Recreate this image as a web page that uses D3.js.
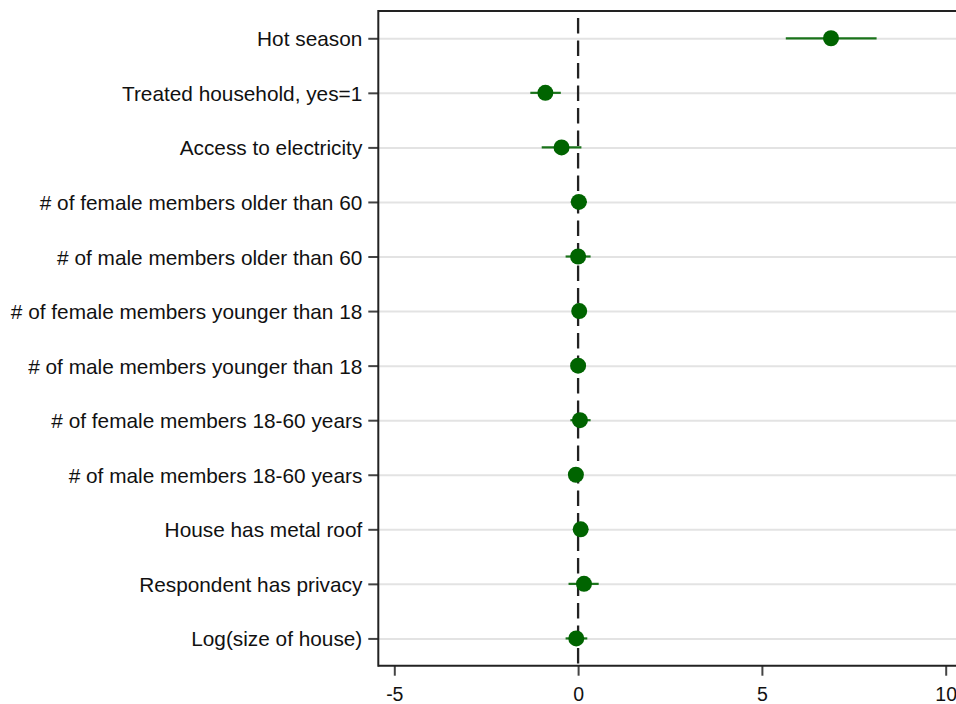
<!DOCTYPE html>
<html>
<head>
<meta charset="utf-8">
<script src="https://cdn.jsdelivr.net/npm/d3@7"></script>
<style>
    body { margin: 0; background: #fff; }
    #chart text { font-family: 'Liberation Sans', Arial, sans-serif; fill: #111; }
</style>
</head>
<body>
<div id="chart"></div>
<script>
// Coefficient names, top to bottom
var labels = [
    'Hot season',
    'Treated household, yes=1',
    'Access to electricity',
    '# of female members older than 60',
    '# of male members older than 60',
    '# of female members younger than 18',
    '# of male members younger than 18',
    '# of female members 18-60 years',
    '# of male members 18-60 years',
    'House has metal roof',
    'Respondent has privacy',
    'Log(size of house)'
];

// Point estimates and confidence bounds
var estimates = [6.88, -0.89, -0.45, 0.02, 0.0, 0.03, 0.0, 0.05, -0.06, 0.07, 0.16, -0.05];
var ciLow = [5.65, -1.3, -0.99, -0.2, -0.34, -0.12, -0.1, -0.21, -0.16, -0.03, -0.26, -0.34];
var ciHigh = [8.12, -0.47, 0.09, 0.24, 0.34, 0.16, 0.1, 0.34, 0.06, 0.16, 0.56, 0.25];

// X axis ticks
var xTicks = [-5, 0, 5, 10];

var rows = labels.map(function (d, i) {
    return { label: d, est: estimates[i], lo: ciLow[i], hi: ciHigh[i] };
});

// Layout
var svgWidth = 956,
    svgHeight = 704;
var plot = { left: 378.3, top: 11, right: 975, bottom: 665.7 };

var x = d3.scaleLinear().domain([-5, 10]).range([394.3, 945.7]);
var y = d3.scalePoint().domain(labels).range([plot.top, plot.bottom]).padding(0.5);

var svg = d3
    .select('#chart')
    .append('svg')
    .attr('width', svgWidth)
    .attr('height', svgHeight);

// Horizontal grid lines
svg.append('g')
    .attr('class', 'grid')
    .attr('transform', 'translate(' + plot.left + ',0)')
    .call(d3.axisLeft(y).tickSize(-(plot.right - plot.left)).tickFormat(''))
    .call(function (g) {
        g.select('.domain').remove();
        g.selectAll('line').attr('stroke', '#e3e3e3').attr('stroke-width', 2);
    });

// Zero reference line
svg.append('line')
    .attr('x1', x(0))
    .attr('x2', x(0))
    .attr('y1', plot.top)
    .attr('y2', plot.bottom)
    .attr('stroke', '#222')
    .attr('stroke-width', 2.3)
    .attr('stroke-dasharray', '15.5,7')
    .attr('stroke-dashoffset', 15.5);

// Y Axis
svg.append('g')
    .attr('class', 'y axis')
    .attr('transform', 'translate(' + plot.left + ',0)')
    .call(d3.axisLeft(y).tickSize(10).tickPadding(6))
    .call(function (g) {
        g.select('.domain').remove();
        g.selectAll('line').attr('stroke', '#444').attr('stroke-width', 2);
        g.selectAll('text').style('font-size', '20.8px').attr('dy', '0.36em');
    });

// X Axis (plain hyphen minus, as in the original)
svg.append('g')
    .attr('class', 'x axis')
    .attr('transform', 'translate(0,' + plot.bottom + ')')
    .call(
        d3
            .axisBottom(x)
            .tickValues(xTicks)
            .tickSize(10)
            .tickPadding(11)
            .tickFormat(function (d) {
                return String(d);
            })
    )
    .call(function (g) {
        g.select('.domain').remove();
        g.selectAll('line').attr('stroke', '#444').attr('stroke-width', 2);
        g.selectAll('text').style('font-size', '19.5px');
    });

// Frame (top, left, bottom)
var frame = svg.append('g').attr('stroke', '#222').attr('stroke-width', 2);
frame.append('line').attr('x1', plot.left).attr('x2', plot.right).attr('y1', plot.top).attr('y2', plot.top);
frame.append('line').attr('x1', plot.left).attr('x2', plot.right).attr('y1', plot.bottom).attr('y2', plot.bottom);
frame.append('line').attr('x1', plot.left).attr('x2', plot.left).attr('y1', plot.top - 1).attr('y2', plot.bottom + 1);

// Confidence intervals
svg.append('g')
    .selectAll('line')
    .data(rows)
    .enter()
    .append('line')
    .attr('x1', function (d) {
        return x(d.lo);
    })
    .attr('x2', function (d) {
        return x(d.hi);
    })
    .attr('y1', function (d) {
        return y(d.label);
    })
    .attr('y2', function (d) {
        return y(d.label);
    })
    .attr('stroke', '#1a731a')
    .attr('stroke-width', 2.2);

// Point estimates
svg.append('g')
    .selectAll('circle')
    .data(rows)
    .enter()
    .append('circle')
    .attr('cx', function (d) {
        return x(d.est);
    })
    .attr('cy', function (d) {
        return y(d.label);
    })
    .attr('r', 8)
    .attr('fill', '#006400');
</script>
</body>
</html>
